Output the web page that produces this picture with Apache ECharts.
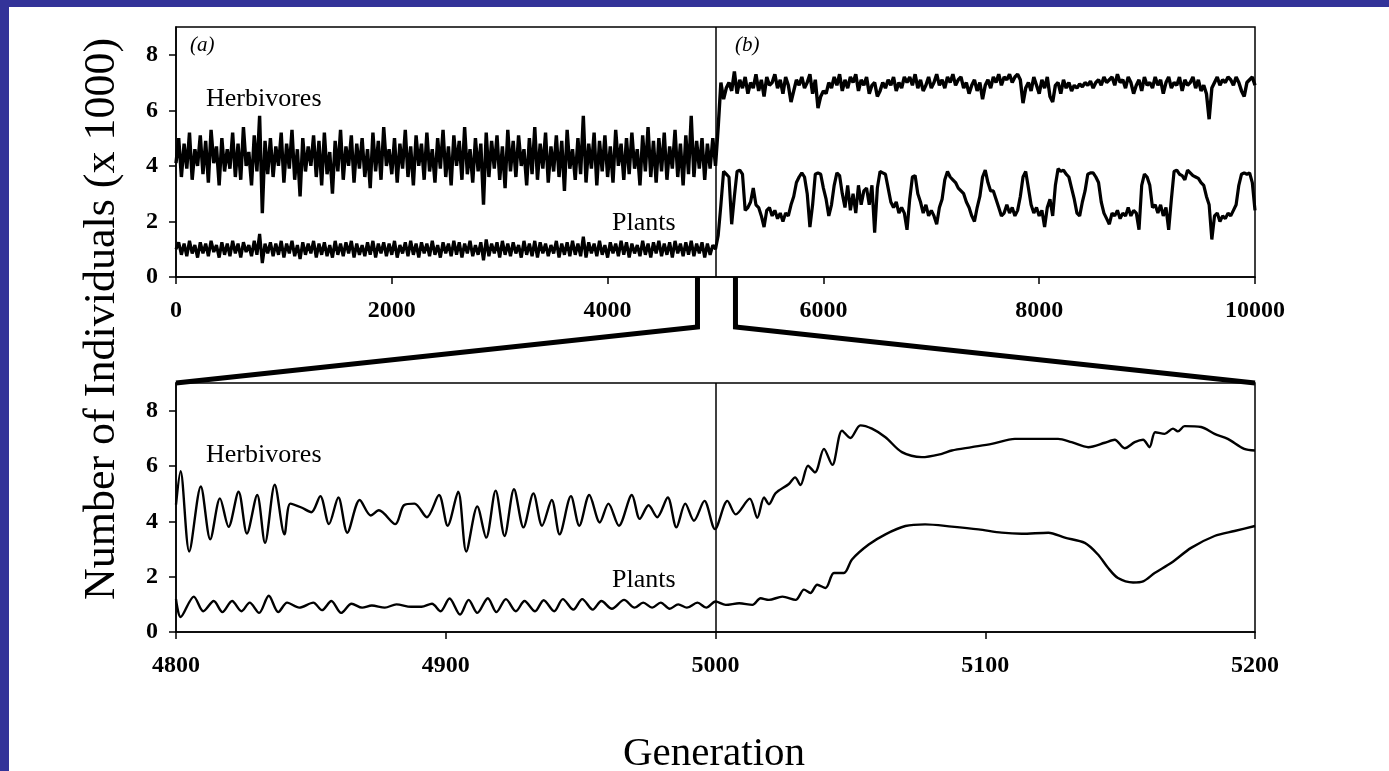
<!DOCTYPE html>
<html>
<head>
<meta charset="utf-8">
<title>Herbivores and Plants</title>
<script src="https://cdn.jsdelivr.net/npm/echarts@6/dist/echarts.min.js"></script>
<style>
  html, body { margin: 0; padding: 0; background: #fff; }
  #chart { width: 1389px; height: 771px; }
</style>
</head>
<body>
<div id="chart"></div>
<script>
// ---- Data (populations in thousands) ----
// Full run, one sample every 25 generations.
const topStep = 25;

// Generations 0 .. 5000
const herbivoresA = [
  4.1, 5.0, 3.6, 4.8, 3.9, 5.2, 3.5, 4.6, 4.0, 5.1,
  3.7, 4.9, 3.4, 5.3, 4.1, 4.7, 3.3, 5.0, 3.8, 4.6,
  3.9, 5.2, 3.6, 4.8, 3.5, 5.4, 4.0, 4.5, 3.3, 5.1,
  3.8, 5.8, 2.3, 4.9, 3.7, 5.0, 3.6, 4.7, 4.0, 5.2,
  3.4, 4.8, 3.9, 5.3, 3.5, 4.6, 2.9, 5.0, 3.8, 4.7,
  4.0, 5.1, 3.6, 4.9, 3.3, 5.2, 3.7, 4.5, 3.0, 4.9,
  3.8, 5.3, 3.5, 4.7, 4.0, 5.1, 3.4, 4.8, 3.9, 5.0,
  3.6, 4.6, 3.2, 5.2, 3.8, 4.9, 3.5, 5.4, 4.0, 4.6,
  3.7, 5.0, 3.4, 4.8, 3.9, 5.3, 3.6, 4.7, 3.3, 5.1,
  4.0, 4.8, 3.5, 5.2, 3.8, 4.6, 3.4, 5.0, 3.9, 5.3,
  3.6, 4.7, 3.3, 5.1, 4.0, 4.9, 3.5, 5.4, 3.7, 4.6,
  3.4, 5.0, 3.8, 4.8, 2.6, 5.2, 3.6, 4.9, 3.9, 5.1,
  3.5, 4.7, 3.2, 5.3, 3.8, 4.9, 3.6, 5.1, 4.0, 4.6,
  3.3, 5.0, 3.7, 5.4, 3.5, 4.8, 3.9, 5.2, 3.4, 4.7,
  3.8, 5.1, 3.6, 4.9, 3.1, 5.3, 3.9, 4.6, 3.5, 5.0,
  3.7, 5.8, 3.4, 4.8, 3.9, 5.2, 3.3, 4.9, 3.8, 5.1,
  3.6, 4.7, 3.4, 5.3, 4.0, 4.8, 3.5, 5.0, 3.7, 5.2,
  3.9, 4.6, 3.3, 5.1, 3.8, 5.4, 3.6, 4.9, 3.4, 5.0,
  3.8, 5.2, 3.5, 4.7, 3.9, 5.3, 3.6, 4.8, 3.3, 5.1,
  3.7, 5.8, 3.6, 4.9, 3.9, 5.0, 3.5, 4.8, 3.9, 5.0,
  4.0
];
const plantsA = [
  1.0, 1.25, 0.8, 1.2, 0.75, 1.3, 0.85, 1.15, 0.7, 1.25,
  0.85, 1.2, 0.75, 1.3, 0.9, 1.15, 0.7, 1.25, 0.8, 1.2,
  0.75, 1.3, 0.85, 1.2, 0.7, 1.25, 0.9, 1.15, 0.75, 1.3,
  0.8, 1.55, 0.5, 1.2, 0.85, 1.25, 0.75, 1.2, 0.8, 1.3,
  0.7, 1.2, 0.85, 1.3, 0.75, 1.15, 0.65, 1.25, 0.8, 1.2,
  0.85, 1.3, 0.7, 1.2, 0.8, 1.25, 0.75, 1.15, 0.7, 1.3,
  0.8, 1.2, 0.75, 1.25, 0.85, 1.3, 0.7, 1.2, 0.8, 1.15,
  0.75, 1.25, 0.8, 1.3, 0.7, 1.2, 0.85, 1.25, 0.75, 1.2,
  0.8, 1.3, 0.7, 1.15, 0.85, 1.25, 0.75, 1.3, 0.8, 1.2,
  0.7, 1.25, 0.85, 1.2, 0.75, 1.3, 0.8, 1.15, 0.7, 1.25,
  0.85, 1.2, 0.75, 1.3, 0.8, 1.25, 0.7, 1.2, 0.85, 1.3,
  0.75, 1.15, 0.8, 1.25, 0.6, 1.35, 0.75, 1.2, 0.85, 1.25,
  0.7, 1.3, 0.8, 1.2, 0.75, 1.25, 0.85, 1.15, 0.7, 1.3,
  0.8, 1.2, 0.75, 1.3, 0.7, 1.25, 0.85, 1.2, 0.75, 1.15,
  0.85, 1.3, 0.7, 1.2, 0.8, 1.25, 0.75, 1.3, 0.8, 1.2,
  0.75, 1.45, 0.7, 1.25, 0.85, 1.2, 0.75, 1.3, 0.8, 1.15,
  0.7, 1.25, 0.85, 1.2, 0.75, 1.3, 0.8, 1.25, 0.7, 1.2,
  0.85, 1.15, 0.75, 1.3, 0.8, 1.2, 0.7, 1.25, 0.85, 1.3,
  0.75, 1.2, 0.8, 1.25, 0.7, 1.3, 0.85, 1.2, 0.75, 1.25,
  0.8, 1.3, 0.75, 1.2, 0.85, 1.25, 0.7, 1.2, 0.8, 1.15,
  1.0
];

// Generations 5025 .. 10000
const herbivoresB = [
  5.4, 7.0, 6.4, 6.8, 7.0, 6.7, 7.4, 6.6, 7.1, 6.8,
  7.2, 6.6, 7.0, 6.8, 7.3, 6.7, 7.1, 6.5, 7.2, 6.9,
  7.0, 7.3, 6.8, 7.1, 6.6, 7.2, 6.9, 6.3, 6.7, 7.1,
  6.9, 7.2, 6.8, 7.0, 7.3, 6.6, 7.1, 6.08, 6.5, 6.7,
  6.6, 7.0, 6.8, 7.2, 6.9, 7.3, 6.7, 7.1, 6.8, 7.2,
  7.0, 7.3, 6.7, 7.1, 6.9, 7.2, 6.6, 6.9, 7.0, 6.5,
  6.7, 7.0, 6.8, 7.1, 6.9, 7.2, 6.7, 7.0, 6.8, 7.2,
  7.0, 7.2, 6.9, 7.3, 6.8, 7.1, 6.7, 6.9, 7.2, 6.8,
  7.0, 7.3, 6.9, 7.1, 6.8, 7.2, 7.0, 7.3, 6.9, 7.1,
  7.2, 6.8, 7.0, 6.6, 6.9, 7.1, 6.7, 7.0, 6.4, 6.9,
  7.1, 6.8, 7.2, 7.0, 7.3, 6.9, 7.2, 7.1, 7.3, 7.0,
  7.2, 7.3, 7.1, 6.26, 6.8, 7.0, 6.7, 7.2, 6.9, 6.6,
  7.1, 6.8, 7.2, 6.5, 6.3, 6.9, 7.0, 6.6, 7.1, 6.8,
  7.0, 6.7, 6.9, 6.8, 6.95, 6.85, 7.0, 6.9, 7.05, 6.8,
  7.0, 7.1, 6.9, 7.2, 7.0, 7.1, 7.2, 6.9, 7.3, 7.0,
  7.1, 6.8, 7.2, 7.0, 6.6, 6.9, 7.1, 6.7, 7.2, 6.9,
  7.0, 6.8, 7.2, 6.9, 7.1, 6.6, 7.0, 7.2, 6.8, 7.0,
  6.9, 7.2, 6.7, 7.1, 6.9, 7.0, 7.2, 6.8, 7.1, 6.7,
  6.9, 6.6, 5.68, 6.8, 7.0, 7.2, 6.9, 7.1, 7.0, 7.2,
  7.1, 6.9, 7.2, 7.0, 6.7, 6.5, 7.0, 7.1, 7.2, 6.9
];
const plantsB = [
  1.5, 2.6, 3.8, 3.7, 3.6, 1.9, 2.9, 3.8, 3.85, 3.7,
  2.4, 2.5, 2.7, 3.2, 2.6, 2.5, 2.2, 1.8, 2.4, 2.5,
  2.2, 2.4, 2.1, 2.3, 2.0, 2.3, 2.2, 2.6, 2.9, 3.4,
  3.6, 3.75, 3.6, 3.0, 1.8, 2.6, 3.7, 3.75, 3.7, 3.2,
  2.8, 2.2, 2.6, 3.3, 3.75, 3.65, 3.0, 2.5, 3.3, 2.4,
  3.0, 2.3, 3.3, 2.6, 3.1, 3.2, 2.6, 3.3, 1.6, 3.2,
  3.8, 3.75, 3.7, 3.2, 2.7, 2.5, 2.7, 2.3, 2.5, 2.3,
  1.7, 2.8, 3.6, 3.65, 3.0, 2.7, 2.3, 2.6, 2.2, 2.4,
  2.2, 1.9, 2.5, 2.8, 3.5, 3.8, 3.6, 3.5, 3.4, 3.2,
  3.1, 3.0, 2.7, 2.5, 2.2, 2.0, 2.5, 2.9, 3.6, 3.85,
  3.4, 3.1, 3.1, 2.8, 2.5, 2.2, 2.3, 2.6, 2.3, 2.5,
  2.2, 2.4, 2.9, 3.6, 3.8, 3.2, 2.6, 2.3, 2.5, 2.2,
  2.4, 1.8, 2.5, 2.8, 2.2, 3.3, 3.9, 3.8, 3.85, 3.7,
  3.6, 3.2, 2.8, 2.3, 2.2, 2.7, 3.1, 3.7, 3.75, 3.75,
  3.6, 3.4, 2.7, 2.3, 2.1, 1.9, 2.3, 2.2, 2.4, 2.1,
  2.3, 2.2, 2.5, 2.2, 2.4, 2.3, 1.7, 3.3, 3.7, 3.6,
  3.3, 2.5, 2.6, 2.3, 2.6, 2.2, 2.5, 1.7, 2.8, 3.8,
  3.85, 3.7, 3.65, 3.5, 3.85, 3.75, 3.65, 3.6, 3.55, 3.4,
  3.3, 2.9, 2.6, 1.35, 2.2, 2.3, 2.0, 2.2, 2.1, 2.3,
  2.2, 2.4, 2.6, 3.3, 3.7, 3.75, 3.7, 3.75, 3.4, 2.4
];

// Close-up of generations 4800 .. 5200: [generation, thousands]
const herbivoresZoom = [
  [4800, 4.6], [4801.7, 5.81], [4804.9, 2.91], [4809.2, 5.26], [4812.7, 3.35],
  [4816.3, 4.83], [4819.5, 3.80], [4823.2, 5.07], [4826.3, 3.56], [4830.1, 4.95],
  [4833.0, 3.22], [4836.6, 5.32], [4840.2, 3.53], [4842.4, 4.64], [4846.5, 4.5],
  [4850.2, 4.33], [4853.5, 4.91], [4856.7, 3.90], [4860.2, 4.86], [4863.5, 3.59],
  [4868.1, 4.77], [4872.2, 4.21], [4875.2, 4.40], [4881.3, 3.90], [4884.5, 4.58],
  [4888.4, 4.64], [4893.0, 4.15], [4897.5, 4.95], [4900.7, 3.84], [4904.6, 5.07],
  [4907.6, 2.91], [4911.7, 4.54], [4915.0, 3.41], [4918.5, 5.11], [4921.8, 3.47],
  [4925.3, 5.16], [4928.8, 3.78], [4932.5, 5.01], [4935.7, 3.84], [4939.3, 4.77],
  [4942.2, 3.53], [4946.4, 4.91], [4949.5, 3.84], [4953.2, 4.95], [4957.1, 3.96],
  [4960.3, 4.64], [4964.2, 3.84], [4969.0, 4.95], [4971.9, 4.09], [4975.2, 4.58],
  [4978.4, 4.15], [4982.3, 4.86], [4985.5, 3.78], [4988.8, 4.64], [4992.0, 4.02],
  [4995.9, 4.74], [4999.8, 3.72], [5004.4, 4.74], [5007.5, 4.25], [5012.7, 4.82],
  [5015.5, 4.13], [5018.0, 4.86], [5019.8, 4.62], [5022.3, 5.02], [5027.2, 5.35],
  [5029.5, 5.59], [5031.5, 5.31], [5034.3, 6.01], [5036.9, 5.77], [5040.2, 6.62],
  [5043.3, 6.04], [5046.9, 7.28], [5050.0, 7.01], [5053.7, 7.47], [5058.0, 7.35],
  [5063.0, 7.04], [5069.1, 6.50], [5076.5, 6.32], [5083.9, 6.44], [5087.6, 6.56],
  [5095.0, 6.68], [5102.4, 6.80], [5111.0, 6.98], [5119.7, 6.98], [5127.0, 6.98],
  [5132.0, 6.86], [5138.2, 6.68], [5144.3, 6.84], [5148.0, 6.95], [5151.7, 6.64],
  [5155.4, 6.86], [5158.5, 6.95], [5160.9, 6.68], [5163.0, 7.22], [5166.5, 7.16],
  [5169.6, 7.35], [5171.4, 7.25], [5173.9, 7.44], [5180.0, 7.41], [5185.0, 7.16],
  [5189.9, 6.98], [5196.0, 6.62], [5200, 6.56]
];
const plantsZoom = [
  [4800, 1.19], [4801.7, 0.54], [4806.6, 1.28], [4810.1, 0.75], [4814.0, 1.12],
  [4817.2, 0.72], [4820.8, 1.12], [4824.3, 0.75], [4827.3, 1.06], [4830.8, 0.69],
  [4834.4, 1.31], [4837.9, 0.72], [4841.2, 1.06], [4845.7, 0.88], [4850.9, 1.06],
  [4854.1, 0.79], [4857.6, 1.12], [4861.2, 0.69], [4865.1, 1.02], [4869.0, 0.88],
  [4872.6, 0.96], [4877.4, 0.88], [4881.7, 1.00], [4887.1, 0.91], [4891.0, 0.91],
  [4894.9, 1.02], [4898.1, 0.75], [4901.4, 1.21], [4905.3, 0.63], [4908.5, 1.16],
  [4911.7, 0.69], [4915.6, 1.22], [4918.8, 0.72], [4922.3, 1.19], [4926.0, 0.75],
  [4929.2, 1.12], [4933.1, 0.75], [4936.3, 1.15], [4940.2, 0.75], [4943.4, 1.19],
  [4947.3, 0.81], [4950.6, 1.19], [4954.5, 0.81], [4957.7, 1.12], [4961.6, 0.84],
  [4966.1, 1.16], [4970.0, 0.88], [4973.2, 1.06], [4976.5, 0.88], [4979.7, 1.06],
  [4983.0, 0.84], [4986.2, 1.00], [4989.4, 0.88], [4993.3, 1.06], [4996.6, 0.88],
  [5000.0, 1.10], [5003.8, 0.98], [5008.8, 1.04], [5013.7, 0.98], [5016.7, 1.22],
  [5019.8, 1.16], [5024.8, 1.28], [5029.7, 1.16], [5032.8, 1.53], [5035.2, 1.41],
  [5037.7, 1.71], [5040.8, 1.59], [5043.9, 2.13], [5047.6, 2.13], [5050.6, 2.62],
  [5056.8, 3.16], [5063.0, 3.53], [5070.4, 3.83], [5077.7, 3.89], [5087.6, 3.81],
  [5097.5, 3.71], [5106.1, 3.59], [5113.5, 3.55], [5123.4, 3.59], [5129.5, 3.41],
  [5136.9, 3.22], [5141.8, 2.80], [5145.5, 2.32], [5149.2, 1.95], [5154.8, 1.79],
  [5158.5, 1.83], [5162.8, 2.13], [5169.0, 2.50], [5176.3, 3.04], [5185.0, 3.47],
  [5192.4, 3.65], [5200, 3.83]
];

// Axis tick settings
const yTicks = { min: 0, max: 9, interval: 2 };
const topXTicks = { min: 0, max: 10000, interval: 2000 };
const zoomXTicks = { min: 4800, max: 5200, interval: 100 };
const switchGeneration = 5000;

// ---- Chart ----
const toSeries = (values, start, step) => values.map((v, i) => [start + i * step, v]);
const topHerb = toSeries(herbivoresA.concat(herbivoresB), 0, topStep);
const topPlant = toSeries(plantsA.concat(plantsB), 0, topStep);

const SERIF = 'Liberation Serif, Times New Roman, serif';
const BLUE = '#333399';
const plain = v => String(v);

function yAxis(gridIndex) {
  return {
    type: 'value', gridIndex, ...yTicks,
    axisLine: { show: true, lineStyle: { color: '#000', width: 1.5 } },
    axisTick: { show: true, length: 7, lineStyle: { color: '#000', width: 1.5 } },
    axisLabel: { color: '#000', fontFamily: SERIF, fontSize: 24, fontWeight: 'bold', margin: 18, showMaxLabel: false, formatter: plain },
    splitLine: { show: false }
  };
}
function xAxis(gridIndex, ticks) {
  return {
    type: 'value', gridIndex, ...ticks,
    axisLine: { show: true, onZero: false, lineStyle: { color: '#000', width: 1.5 } },
    axisTick: { show: true, length: 7, lineStyle: { color: '#000', width: 1.5 } },
    axisLabel: { color: '#000', fontFamily: SERIF, fontSize: 24, fontWeight: 'bold', margin: 22, formatter: plain },
    splitLine: { show: false }
  };
}
const divider = {
  silent: true, symbol: 'none', label: { show: false },
  lineStyle: { color: '#000', width: 1.5, type: 'solid' },
  data: [{ xAxis: switchGeneration }]
};
function line(name, data, xi, width, extra) {
  return Object.assign({
    name, type: 'line', data, xAxisIndex: xi, yAxisIndex: xi,
    showSymbol: false, symbol: 'none', animation: false,
    lineStyle: { color: '#000', width, join: 'bevel' }
  }, extra || {});
}

function label(text, x, y, size, style) {
  return {
    type: 'text', x, y, z: 50,
    style: { text, fill: '#000', font: (style || '') + ' ' + size + 'px ' + SERIF, align: 'left', verticalAlign: 'middle' }
  };
}

const baseGraphics = [
  { type: 'rect', shape: { x: 0, y: 0, width: 1389, height: 7 }, style: { fill: BLUE }, z: 100 },
  { type: 'rect', shape: { x: 0, y: 0, width: 9, height: 771 }, style: { fill: BLUE }, z: 100 },
  label('(a)', 190, 45, 21, 'italic'),
  label('(b)', 735, 45, 21, 'italic'),
  label('Herbivores', 206, 99, 26),
  label('Plants', 612, 223, 26),
  label('Herbivores', 206, 455, 26),
  label('Plants', 612, 580, 26),
  {
    type: 'text', x: 102, y: 319, rotation: Math.PI / 2, z: 50,
    style: { text: 'Number of Individuals (x 1000)', fill: '#000', font: '44px ' + SERIF, align: 'center', verticalAlign: 'middle' }
  },
  {
    type: 'text', x: 714, y: 754, z: 50,
    style: { text: 'Generation', fill: '#000', font: '41px ' + SERIF, align: 'center', verticalAlign: 'middle' }
  }
];

const option = {
  backgroundColor: '#fff',
  animation: false,
  grid: [
    { left: 176, top: 27, width: 1079, height: 250, show: true, borderColor: '#000', borderWidth: 1.5, backgroundColor: 'transparent' },
    { left: 176, top: 383, width: 1079, height: 249, show: true, borderColor: '#000', borderWidth: 1.5, backgroundColor: 'transparent' }
  ],
  xAxis: [xAxis(0, topXTicks), xAxis(1, zoomXTicks)],
  yAxis: [yAxis(0), yAxis(1)],
  series: [
    line('Herbivores', topHerb, 0, 3.4, { markLine: divider }),
    line('Plants', topPlant, 0, 3.2),
    line('Herbivores', herbivoresZoom, 1, 2.4, { smooth: 0.3, markLine: divider }),
    line('Plants', plantsZoom, 1, 2.4, { smooth: 0.3 })
  ],
  graphic: baseGraphics
};

const chart = echarts.init(document.getElementById('chart'));
chart.setOption(option);

// Bracket joining the full run to its close-up window
const zoomFrom = 4833, zoomTo = 5185;
const a0 = chart.convertToPixel({ gridIndex: 0 }, [zoomFrom, 0]);
const a1 = chart.convertToPixel({ gridIndex: 0 }, [zoomTo, 0]);
const b0 = chart.convertToPixel({ gridIndex: 1 }, [zoomXTicks.min, yTicks.max]);
const b1 = chart.convertToPixel({ gridIndex: 1 }, [zoomXTicks.max, yTicks.max]);
const kneeY = a0[1] + 50;
const bracketStyle = { stroke: '#000', lineWidth: 5, fill: null, lineJoin: 'miter' };
chart.setOption({
  graphic: baseGraphics.concat([
    { type: 'polyline', z: 40, shape: { points: [[a0[0], a0[1]], [a0[0], kneeY], [b0[0], b0[1]]] }, style: bracketStyle },
    { type: 'polyline', z: 40, shape: { points: [[a1[0], a1[1]], [a1[0], kneeY], [b1[0], b1[1]]] }, style: bracketStyle }
  ])
}, { replaceMerge: ['graphic'] });
</script>
</body>
</html>
